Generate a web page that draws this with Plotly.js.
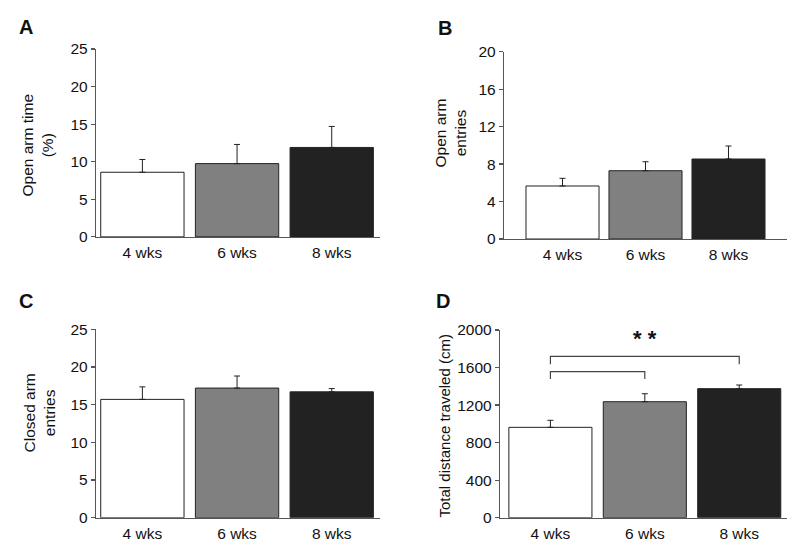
<!DOCTYPE html>
<html>
<head>
<meta charset="utf-8">
<script src="https://cdn.plot.ly/plotly-3.0.1.min.js"></script>
<style>html,body{margin:0;padding:0;background:#fff;}#chart{width:800px;height:560px;}</style>
</head>
<body>
<div id="chart"></div>
<script>
// ---- data ----
var categories = ['4 wks', '6 wks', '8 wks'];
var openArmTime = [8.6, 9.75, 11.9];
var openArmTimeErr = [1.7, 2.55, 2.8];
var openArmEntries = [5.66, 7.29, 8.54];
var openArmEntriesErr = [0.82, 0.96, 1.39];
var closedArmEntries = [15.7, 17.2, 16.7];
var closedArmEntriesErr = [1.66, 1.6, 0.43];
var totalDistance = [963, 1236, 1375];
var totalDistanceErr = [75, 85, 39];
// significance brackets (panel D)
var bracketOuterX = ['4 wks', '4 wks', '8 wks', '8 wks'];
var bracketOuterY = [1635, 1720, 1720, 1635];
var bracketInnerX = ['4 wks', '4 wks', '6 wks', '6 wks'];
var bracketInnerY = [1478, 1556, 1556, 1478];
var starLabel = '* *';
var starX = '6 wks';
var starY = 1905;

var barColors = ['#ffffff', '#808080', '#222222'];
var FONT = 'Liberation Sans, Arial, sans-serif';
var axisCol = '#555555';
var FS = 15.5;

function barTrace(y, err, xa, ya) {
  return {
    type: 'bar', x: categories, y: y, xaxis: xa, yaxis: ya,
    marker: {color: barColors, line: {color: '#222222', width: 1}},
    error_y: {type: 'data', array: err, arrayminus: err.map(function(){return 0;}), symmetric: false,
              color: '#222222', thickness: 1, width: 3},
    showlegend: false, hoverinfo: 'skip'
  };
}

var traces = [
  barTrace(openArmTime, openArmTimeErr, 'x', 'y'),
  barTrace(openArmEntries, openArmEntriesErr, 'x2', 'y2'),
  barTrace(closedArmEntries, closedArmEntriesErr, 'x3', 'y3'),
  barTrace(totalDistance, totalDistanceErr, 'x4', 'y4'),
  {type: 'scatter', mode: 'lines', x: bracketOuterX, y: bracketOuterY, xaxis: 'x4', yaxis: 'y4',
   line: {color: '#444444', width: 1.2}, showlegend: false, hoverinfo: 'skip'},
  {type: 'scatter', mode: 'lines', x: bracketInnerX, y: bracketInnerY, xaxis: 'x4', yaxis: 'y4',
   line: {color: '#444444', width: 1.2}, showlegend: false, hoverinfo: 'skip'}
];

function xax(domain, range, anchor) {
  return {domain: domain, range: range, anchor: anchor, type: 'category',
    showline: true, linecolor: axisCol, linewidth: 1.2, ticks: 'outside', ticklen: 1, tickcolor: 'rgba(0,0,0,0)',
    showgrid: false, zeroline: false, fixedrange: true,
    tickfont: {family: FONT, size: FS, color: '#111'}};
}
function yax(domain, range, dtick, anchor) {
  return {domain: domain, range: range, dtick: dtick, anchor: anchor,
    showline: true, linecolor: axisCol, linewidth: 1.2, ticks: 'outside', ticklen: 4, tickcolor: axisCol,
    tickwidth: 1.2, showgrid: false, zeroline: false, fixedrange: true,
    tickfont: {family: FONT, size: FS, color: '#111'}};
}

function ann(text, xpx, ypx, size, angle) {
  return {text: text, xref: 'paper', yref: 'paper', x: xpx / 800, y: 1 - ypx / 560,
    xanchor: 'center', yanchor: 'middle', textangle: angle || 0, showarrow: false,
    font: {family: FONT, size: size, color: '#111'}};
}

var layout = {
  width: 800, height: 560,
  margin: {l: 0, r: 0, t: 0, b: 0},
  paper_bgcolor: '#ffffff', plot_bgcolor: '#ffffff',
  bargap: 0.12,
  font: {family: FONT, color: '#111'},
  xaxis: xax([0.12, 0.475], [-0.49, 2.51], 'y'),
  yaxis: yax([0.577, 0.9125], [0, 25], 5, 'x'),
  xaxis2: xax([0.63, 0.98375], [-0.705, 2.705], 'y2'),
  yaxis2: yax([0.5732, 0.9077], [0, 20], 4, 'x2'),
  xaxis3: xax([0.12, 0.475], [-0.49, 2.51], 'y3'),
  yaxis3: yax([0.0755, 0.412], [0, 25], 5, 'x3'),
  xaxis4: xax([0.625, 0.98375], [-0.534, 2.506], 'y4'),
  yaxis4: yax([0.0755, 0.4107], [0, 2000], 400, 'x4'),
  annotations: [
    ann('<b>A</b>', 25.5, 27, 20),
    ann('<b>B</b>', 444.5, 27.5, 20),
    ann('<b>C</b>', 25.5, 300.5, 20),
    ann('<b>D</b>', 443, 301, 20),
    ann('Open arm time<br>(%)', 37.5, 145, FS, -90),
    ann('Open arm<br>entries', 449.5, 133, FS, -90),
    ann('Closed arm<br>entries', 38.5, 413, FS, -90),
    ann('Total distance traveled (cm)', 444, 426.5, 15, -90),
    {text: '<b>' + starLabel + '</b>', xref: 'x4', yref: 'y4', x: starX, y: starY, xanchor: 'center', yanchor: 'middle',
     showarrow: false, font: {family: FONT, size: 22, color: '#111'}}
  ]
};

Plotly.newPlot('chart', traces, layout, {displayModeBar: false, staticPlot: true});
</script>
</body>
</html>
